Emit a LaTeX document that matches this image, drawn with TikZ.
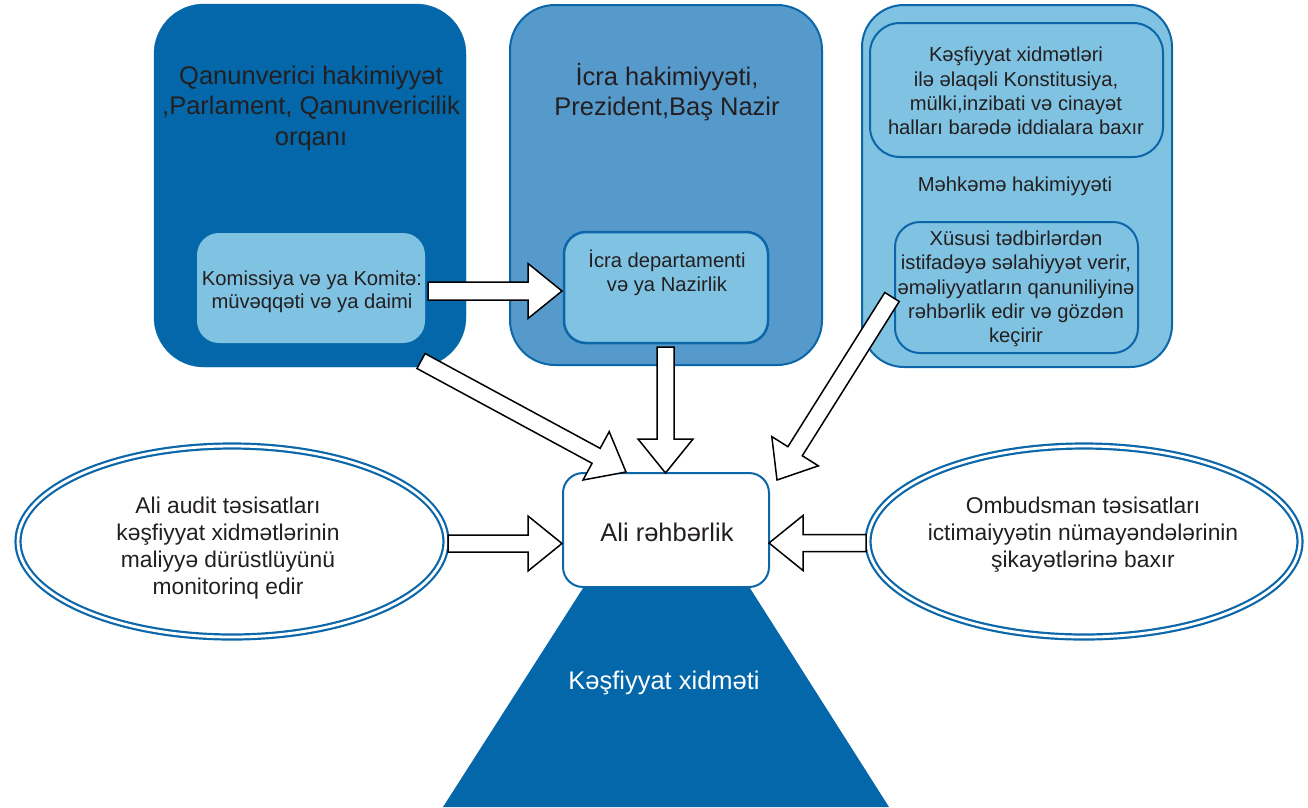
\documentclass[tikz,border=0pt]{standalone}
\usepackage{fontspec}
\setmainfont{Liberation Sans}
\usetikzlibrary{calc}
\definecolor{dkblue}{HTML}{0467AA}
\definecolor{mdblue}{HTML}{5699CB}
\definecolor{ltblue}{HTML}{80C2E1}
\definecolor{edgeblue}{HTML}{0B67A9}
\definecolor{txt}{HTML}{231F20}
\newcommand{\blkarrow}[3]{%
  \coordinate (#1#2c) at ($(#2)!34pt!(#1)$);
  \draw[blockarr] ($(#1)!#3!90:(#2)$) -- ($(#1#2c)!#3!90:(#2)$) -- ($(#1#2c)!27.5pt!90:(#2)$) -- (#2) -- ($(#1#2c)!27.5pt!-90:(#2)$) -- ($(#1#2c)!#3!-90:(#2)$) -- ($(#1)!#3!-90:(#2)$) -- cycle;}
\begin{document}
\begin{tikzpicture}[x=1pt,y=-1pt,
  box/.style={rectangle, inner sep=0pt},
  lbl/.style={inner sep=0pt, align=center, text=txt},
  big/.style={font=\fontsize{25.5pt}{30.5pt}\selectfont},
  mid/.style={font=\fontsize{20.2pt}{23.5pt}\selectfont},
  rmid/.style={font=\fontsize{20.2pt}{24.3pt}\selectfont},
  ell/.style={font=\fontsize{22.8pt}{27pt}\selectfont},
  blockarr/.style={draw=black, fill=white, line width=1.5pt, line join=miter},
  oval/.style={draw=edgeblue, double=white, double distance=2.8pt, line width=2.2pt}]
\useasboundingbox (0,0) rectangle (1308,807);

% left column
\node[box, fill=dkblue, draw=dkblue, minimum width=312pt, minimum height=363pt, rounded corners=50pt] (leg) at (310,185.5) {};
\node[lbl, big] (legt) at (311,108) {Qanunverici hakimiyyət\\,Parlament, Qanunvericilik\\orqanı};
\node[box, fill=ltblue, minimum width=228pt, minimum height=110pt, rounded corners=22pt] (kom) at (311,288) {};
\node[lbl, mid] (komt) at (312,292) {Komissiya və ya Komitə:\\müvəqqəti və ya daimi};

% middle column
\node[box, fill=mdblue, draw=edgeblue, line width=2pt, minimum width=312pt, minimum height=360pt, rounded corners=45pt] (exe) at (666,185) {};
\node[lbl, big] (exet) at (667,92) {İcra hakimiyyəti,\\Prezident,Baş Nazir};
\node[box, fill=ltblue, draw=edgeblue, line width=2.5pt, minimum width=204pt, minimum height=111pt, rounded corners=22pt] (dep) at (666,287.5) {};
\node[lbl, mid] (dept) at (667,273) {İcra departamenti\\və ya Nazirlik};

% right column
\node[box, fill=ltblue, draw=edgeblue, line width=2pt, minimum width=310pt, minimum height=362pt, rounded corners=42pt] (jud) at (1017,186) {};
\node[box, fill=ltblue, draw=edgeblue, line width=2pt, minimum width=293pt, minimum height=134pt, rounded corners=30pt] (konst) at (1016.5,90) {};
\node[lbl, rmid] (konstt) at (1016,91) {Kəşfiyyat xidmətləri\\ilə əlaqəli Konstitusiya,\\mülki,inzibati və cinayət\\halları barədə iddialara baxır};
\node[lbl, rmid] (judt) at (1015,186) {Məhkəmə hakimiyyəti};
\node[box, fill=ltblue, draw=edgeblue, line width=2pt, minimum width=243pt, minimum height=131pt, rounded corners=25pt] (xus) at (1016.5,287.5) {};
\node[lbl, rmid] (xust) at (1016,289) {Xüsusi tədbirlərdən\\istifadəyə səlahiyyət verir,\\əməliyyatların qanuniliyinə\\rəhbərlik edir və gözdən\\keçirir};

% intelligence service trapezoid
\fill[dkblue] (585,585) -- (748,585) -- (889,807) -- (443,807) -- cycle;
\node[lbl, big, text=white] (kes) at (664,683) {Kəşfiyyat xidməti};

% top leadership
\node[box, fill=white, draw=edgeblue, line width=2pt, minimum width=206pt, minimum height=114pt, rounded corners=20pt] (ali) at (666,530) {};
\node[lbl, big] (alit) at (667,532) {Ali rəhbərlik};

% ellipses
\draw[oval] (232,541.5) ellipse [x radius=214, y radius=95.5];
\coordinate (audit) at (232,541.5);
\node[lbl, ell] (auditt) at (228,548) {Ali audit təsisatları\\kəşfiyyat xidmətlərinin\\maliyyə dürüstlüyünü\\monitorinq edir};
\draw[oval] (1084,541.5) ellipse [x radius=216, y radius=95.5];
\coordinate (omb) at (1084,541.5);
\node[lbl, ell] (ombt) at (1083,535) {Ombudsman təsisatları\\ictimaiyyətin nümayəndələrinin\\şikayətlərinə baxır};

% arrow end points
\coordinate (t1) at (428,291);   \coordinate (h1) at (562,291);
\coordinate (t2) at (421,361);   \coordinate (h2) at (626,472);
\coordinate (t3) at (665.5,347); \coordinate (h3) at (665.5,473);
\coordinate (t4) at (892,297);   \coordinate (h4) at (777,480);
\coordinate (t5) at (448,543.5); \coordinate (h5) at (562,543.5);
\coordinate (t6) at (866,543);   \coordinate (h6) at (769,543);

\blkarrow{t1}{h1}{9pt}
\blkarrow{t2}{h2}{8.5pt}
\blkarrow{t3}{h3}{8.5pt}
\blkarrow{t4}{h4}{8.5pt}
\blkarrow{t5}{h5}{8.5pt}
\blkarrow{t6}{h6}{8.5pt}
\end{tikzpicture}
\end{document}
